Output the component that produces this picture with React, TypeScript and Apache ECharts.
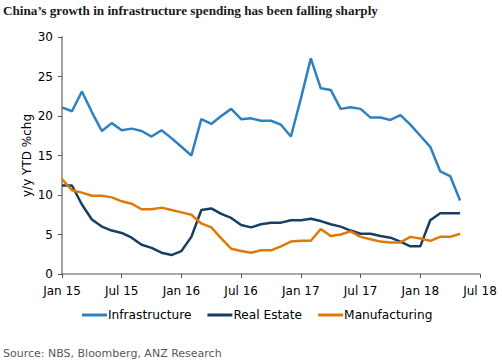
import React, { useEffect, useRef } from "react";
import * as echarts from "echarts";

const months: string[] = [];
const yearLabels = ["15", "16", "17", "18"];
const monthNames = ["Jan", "Feb", "Mar", "Apr", "May", "Jun", "Jul", "Aug", "Sep", "Oct", "Nov", "Dec"];
for (const y of yearLabels) {
  for (const m of monthNames) {
    months.push(`${m} ${y}`);
  }
}
const categories = months.slice(0, 43); // Jan 15 .. Jul 18

const infrastructure = [
  21.1, 20.6, 23.1, 20.5, 18.1, 19.1, 18.2, 18.4, 18.1, 17.4, 18.2, 17.2,
  16.1, 15.0, 19.6, 19.0, 20.0, 20.9, 19.6, 19.7, 19.4, 19.4, 18.9, 17.4,
  22.2, 27.3, 23.5, 23.3, 20.9, 21.1, 20.9, 19.8, 19.8, 19.5, 20.1, 18.9,
  17.5, 16.1, 13.0, 12.4, 9.3,
];
const realEstate = [
  11.2, 11.2, 8.8, 6.9, 6.0, 5.5, 5.2, 4.6, 3.7, 3.3, 2.7, 2.4,
  2.9, 4.7, 8.1, 8.3, 7.6, 7.1, 6.2, 5.9, 6.3, 6.5, 6.5, 6.8,
  6.8, 7.0, 6.7, 6.3, 6.0, 5.5, 5.1, 5.1, 4.8, 4.6, 4.1, 3.5,
  3.5, 6.8, 7.7, 7.7, 7.7,
];
const manufacturing = [
  12.0, 10.6, 10.3, 9.9, 9.9, 9.7, 9.2, 8.9, 8.2, 8.2, 8.4, 8.1,
  7.8, 7.5, 6.4, 5.9, 4.5, 3.2, 2.9, 2.7, 3.0, 3.0, 3.5, 4.1,
  4.2, 4.2, 5.7, 4.8, 5.0, 5.4, 4.7, 4.4, 4.1, 4.0, 4.0, 4.7,
  4.5, 4.2, 4.7, 4.7, 5.1,
];

const title = "China\u2019s growth in infrastructure spending has been falling sharply";
const source = "Source: NBS, Bloomberg, ANZ Research";
const yName = "y/y YTD %chg";

const font = "DejaVu Sans";

export default function App() {
  const ref = useRef<HTMLDivElement>(null);
  useEffect(() => {
    if (!ref.current) return;
    const chart = echarts.init(ref.current, undefined, { renderer: "svg" });
    const lineSeries = (name: string, data: number[], color: string) => ({
      name,
      type: "line",
      data,
      symbol: "none",
      smooth: false,
      lineStyle: { color, width: 2.5 },
      itemStyle: { color },
    });
    chart.setOption({
      animation: false,
      backgroundColor: "#ffffff",
      graphic: [
        {
          type: "text",
          left: 3,
          top: 4,
          style: {
            text: title,
            fontFamily: "Liberation Serif",
            fontWeight: "bold",
            fontSize: 13.2,
            fill: "#1a1a1a",
          },
        },
        {
          type: "text",
          left: 3,
          top: 348,
          style: {
            text: source,
            fontFamily: font,
            fontSize: 11,
            fill: "#595959",
          },
        },
      ],
      legend: {
        top: 309,
        left: 82,
        padding: 0,
        icon: "rect",
        itemWidth: 25,
        itemHeight: 3,
        itemGap: 16,
        textStyle: { fontFamily: font, fontSize: 12.2, color: "#000", padding: [0, 0, 0, -4] },
        data: ["Infrastructure", "Real Estate", "Manufacturing"],
      },
      grid: { left: 62, top: 37, width: 418, height: 237, containLabel: false },
      xAxis: {
        type: "category",
        data: categories,
        boundaryGap: false,
        axisLine: { lineStyle: { color: "#8c8c8c", width: 1.5 } },
        axisTick: {
          interval: (i: number) => i % 6 === 0,
          length: 4,
          lineStyle: { color: "#555" },
        },
        axisLabel: {
          interval: (i: number) => i % 6 === 0,
          formatter: (v: string) => v,
          fontFamily: font,
          fontSize: 12,
          color: "#000",
          margin: 11,
          showMaxLabel: true,
        },
        splitLine: { show: false },
      },
      yAxis: {
        type: "value",
        min: 0,
        max: 30,
        interval: 5,
        name: yName,
        nameLocation: "middle",
        nameGap: 29,
        nameMoveOverlap: false,
        nameTextStyle: { fontFamily: font, fontSize: 12, color: "#000" },
        axisLine: { show: true, lineStyle: { color: "#a0a0a0", width: 2 } },
        axisTick: { show: true, length: 4, lineStyle: { color: "#555" } },
        axisLabel: { fontFamily: font, fontSize: 12, color: "#000", margin: 9 },
        splitLine: { show: false },
      },
      series: [
        lineSeries("Infrastructure", infrastructure, "#2e81c1"),
        lineSeries("Real Estate", realEstate, "#183f63"),
        lineSeries("Manufacturing", manufacturing, "#de7a06"),
      ],
    });
    return () => chart.dispose();
  }, []);
  return (
    <div
      ref={ref}
      style={{ position: "absolute", left: 0, top: 0, width: 502, height: 363 }}
    />
  );
}
